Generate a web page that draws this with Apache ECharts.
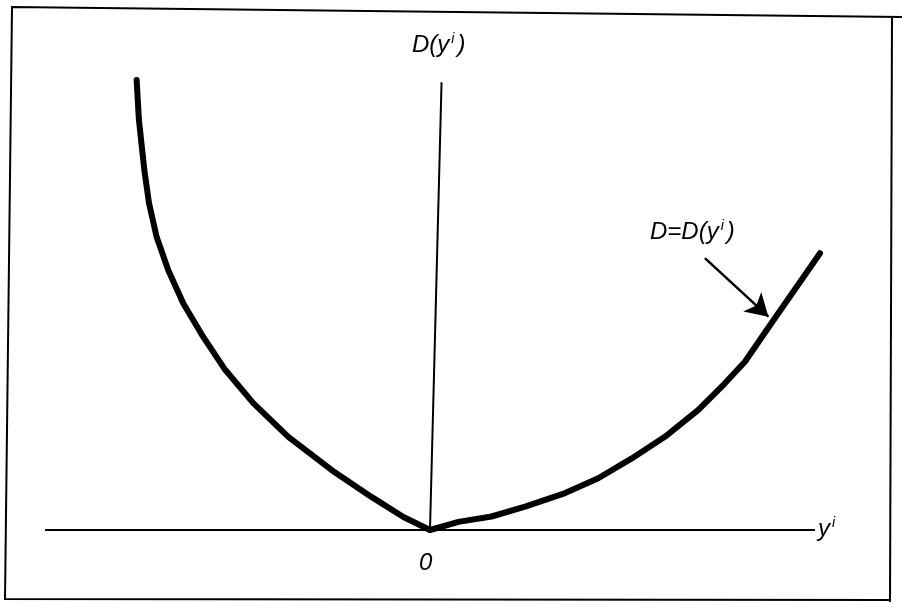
<!DOCTYPE html>
<html>
<head>
<meta charset="utf-8">
<script src="https://cdn.jsdelivr.net/npm/echarts@6/dist/echarts.min.js"></script>
<style>html,body{margin:0;padding:0;background:#fff}#c{width:902px;height:602px}</style>
</head>
<body>
<div id="c"></div>
<script>
// Left branch of D = D(y^i) (y^i, D)
var leftBranch = [
  [-7.62, 10.0], [-7.56, 9.11], [-7.42, 8.00], [-7.30, 7.27], [-7.10, 6.51],
  [-6.80, 5.78], [-6.41, 5.04], [-5.89, 4.29], [-5.32, 3.56], [-4.59, 2.82],
  [-3.68, 2.07], [-2.55, 1.33], [-1.51, 0.73], [-0.69, 0.29], [0, 0]
];
// Right branch
var rightBranch = [
  [0, 0], [0.74, 0.18], [1.60, 0.30], [2.47, 0.52], [3.51, 0.82], [4.37, 1.15],
  [5.24, 1.59], [6.10, 2.07], [6.97, 2.67], [7.66, 3.26], [8.18, 3.74],
  [8.79, 4.50], [9.39, 5.24], [10.13, 6.15]
];
// Axis lines (drawn as data segments)
var horizontalAxis = [[-10, 0], [10, 0]];
var verticalAxis = [[0, 0], [0.3, 9.95]];
// Annotation arrow from label to curve
var arrowFrom = [7.14, 6.04];
var arrowTo = [8.79, 4.74];

var chart = echarts.init(document.getElementById('c'));
var font = 'Arial';
var supRich = {
  n: {fontSize: 24, fontStyle: 'italic', fontFamily: font, color: '#000'},
  s: {fontSize: 14, fontStyle: 'italic', fontFamily: font, color: '#000', verticalAlign: 'top', padding: [0, 3, 13, 2]}
};
chart.setOption({
  animation: false,
  backgroundColor: '#fff',
  grid: {left: 45, right: 48.5, top: 80, bottom: 72},
  xAxis: {type: 'value', min: -10, max: 11, show: false},
  yAxis: {type: 'value', min: 0, max: 10, show: false},
  series: [
    {type: 'line', data: horizontalAxis, symbol: 'none', lineStyle: {color: '#000', width: 2}, silent: true},
    {type: 'line', data: verticalAxis, symbol: 'none', lineStyle: {color: '#000', width: 2}, silent: true},
    {type: 'line', data: leftBranch, smooth: false, symbol: 'none', lineStyle: {color: '#000', width: 6, join: 'round', cap: 'round'}},
    {type: 'line', data: rightBranch, smooth: false, symbol: 'none', lineStyle: {color: '#000', width: 6, join: 'round', cap: 'round'},
      markLine: {
        silent: true, symbol: ['none', 'arrow'], symbolSize: [20, 22],
        lineStyle: {color: '#000', width: 2.5, type: 'solid'},
        label: {show: false},
        data: [[{coord: arrowFrom}, {coord: arrowTo}]]
      }
    }
  ],
  graphic: [
    {type: 'polyline', shape: {points: [[902, 17], [12, 7], [5, 599], [890, 600]]}, style: {stroke: '#000', lineWidth: 2, fill: null}, silent: true},
    {type: 'line', shape: {x1: 892, y1: 18, x2: 890, y2: 602}, style: {stroke: '#000', lineWidth: 2}, silent: true},
    {type: 'text', left: 412, top: 32, style: {text: '{n|D(y}{s|i}{n|)}', rich: supRich}},
    {type: 'text', left: 650, top: 219, style: {text: '{n|D=D(y}{s|i}{n|)}', rich: supRich}},
    {type: 'text', left: 818, top: 516, style: {text: '{n|y}{s|i}', rich: supRich}},
    {type: 'text', left: 419, top: 551, style: {text: '0', font: 'italic 24px Arial', fill: '#000'}}
  ]
});
</script>
</body>
</html>
